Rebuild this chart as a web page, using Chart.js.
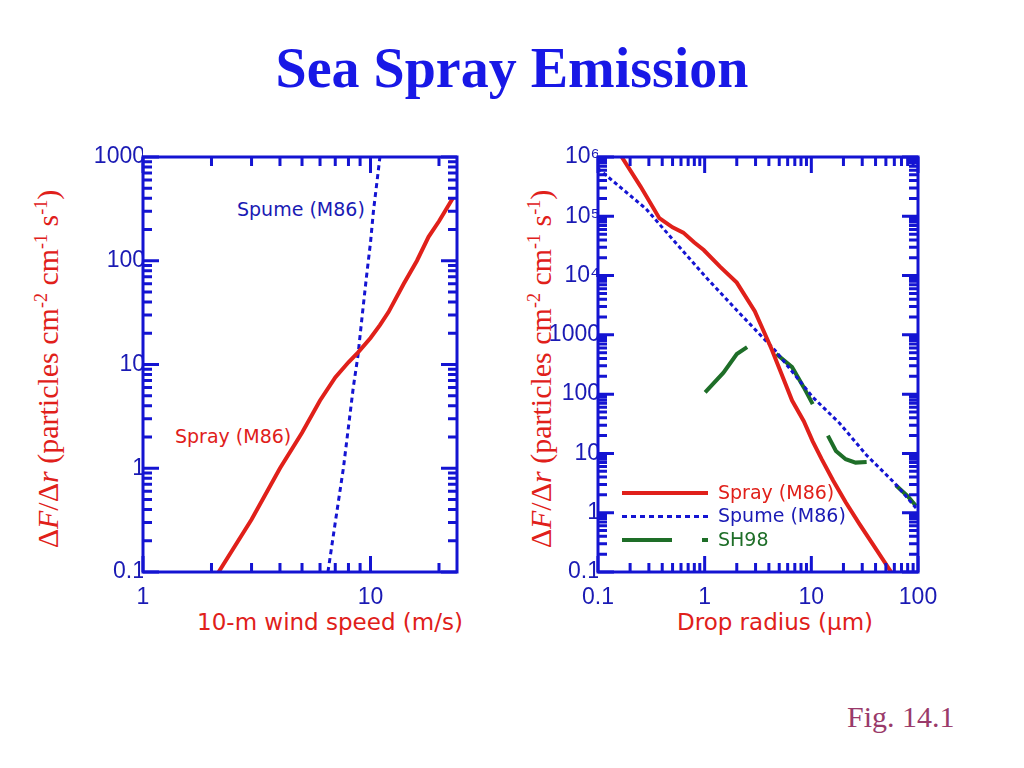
<!DOCTYPE html>
<html><head><meta charset="utf-8">
<script src="https://cdn.jsdelivr.net/npm/chart.js@4"></script>
<style>
body{margin:0;width:1024px;height:768px;background:#fff;position:relative;overflow:hidden;font-family:"DejaVu Sans",sans-serif}
.t{position:absolute;white-space:nowrap}
canvas{position:absolute}
.yt{position:absolute;font-family:"Liberation Serif",serif;font-size:30px;color:#e0201a;transform:rotate(-90deg);transform-origin:center;white-space:nowrap;width:440px;text-align:center}
sup{font-size:60%}
</style></head><body>
<div class="t" style="left:0;width:1024px;top:36px;text-align:center;font-family:'Liberation Serif',serif;font-weight:bold;font-size:56px;color:#1818e6">Sea Spray Emission</div>
<div class="t" style="left:847px;top:700px;font-family:'Liberation Serif',serif;font-size:30px;color:#9a3a6a">Fig. 14.1</div>
<div class="yt" style="left:-172px;top:352px">Δ<i>F</i>/Δ<i>r</i> (particles cm<sup>-2</sup> cm<sup>-1</sup> s<sup>-1</sup>)</div>
<div class="yt" style="left:321px;top:352px">Δ<i>F</i>/Δ<i>r</i> (particles cm<sup>-2</sup> cm<sup>-1</sup> s<sup>-1</sup>)</div>
<div class="t" style="left:130px;width:400px;top:609px;text-align:center;font-size:23px;color:#e0201a">10-m wind speed (m/s)</div>
<div class="t" style="left:575px;width:400px;top:609px;text-align:center;font-size:23px;color:#e0201a">Drop radius (μm)</div>
<div class="t" style="left:237px;top:198px;font-size:19px;color:#1a1ab4">Spume (M86)</div>
<div class="t" style="left:175px;top:425px;font-size:19px;color:#e0201a">Spray (M86)</div>
<canvas id="c1" style="left:40px;top:100px;width:460px;height:560px"></canvas>
<canvas id="c2" style="left:520px;top:100px;width:460px;height:560px"></canvas>
<script>
// Left panel: flux vs wind speed
const windSprayX = [2.15, 3, 4, 5, 6, 7, 8, 8.8, 10, 11, 12, 14, 16, 18, 20, 23];
const windSprayY = [0.1, 0.32, 1.0, 2.2, 4.5, 7.5, 10.5, 13, 18, 24, 32, 60, 100, 170, 240, 400];
const windSpumeX = [6.5, 7, 7.6, 8.0, 8.4, 8.8, 9.2, 9.6, 10.0, 10.3, 10.7, 11.0];
const windSpumeY = [0.1, 0.3, 1.0, 2.5, 6, 12, 30, 70, 150, 300, 600, 1000];
// Right panel: flux vs drop radius
const rSprayX = [0.167, 0.25, 0.376, 0.5, 0.63, 0.8, 0.98, 1.4, 2.0, 2.95, 4.2, 5.2, 6.6, 8.5, 10.3, 12.5, 16, 21, 28, 40, 56];
const rSprayY = [1e6, 3.2e5, 9.3e4, 6.5e4, 5.3e4, 3.6e4, 2.7e4, 1.4e4, 7.6e3, 2.5e3, 600, 230, 78, 35, 16, 8, 3.5, 1.5, 0.66, 0.25, 0.1];
const rSpumeX = [0.1, 0.28, 1.05, 2.0, 4.6, 10.3, 18.5, 33, 60, 100];
const rSpumeY = [6.4e5, 1.35e5, 9e3, 2.6e3, 540, 89, 32, 9.3, 3.2, 1.1];
const rSH98X = [1.01, 1.5, 2.0, 2.5, null, 4.7, 6.6, 8.5, 10.3, null, 14.3, 17, 21, 26, 33, null, 62, 80, 96];
const rSH98Y = [107, 230, 475, 620, null, 475, 285, 130, 68, null, 20, 11, 8, 7, 7.2, null, 2.9, 1.9, 1.3];
const leftYTicks = {0.1:'0.1',1:'1',10:'10',100:'100',1000:'1000'};
const leftXTicks = {1:'1',10:'10'};
const rightYTicks = {0.1:'0.1',1:'1',10:'10',100:'100',1000:'1000',10000:'10⁴',100000:'10⁵',1000000:'10⁶'};
const rightXTicks = {0.1:'0.1',1:'1',10:'10',100:'100'};

const BLUE='#1414d2', RED='#e0201a', GREEN='#1e6e28', TXT='#1a1ab4';
function pts(xs,ys){return xs.map((x,i)=>x===null?{x:NaN,y:null}:{x:x,y:ys[i]});}
const frame={id:'frame',afterDatasetsDraw(ch){
  const {ctx,chartArea:a,scales:{x,y}}=ch;ctx.save();ctx.strokeStyle=BLUE;ctx.lineWidth=3;
  ctx.strokeRect(a.left,a.top,a.right-a.left,a.bottom-a.top);
  function vals(min,max){const r=[];for(let e=-2;e<=7;e++)for(let k=1;k<10;k++){const v=k*Math.pow(10,e);if(v>=min*0.999&&v<=max*1.001)r.push([v,k===1]);}return r;}
  ctx.beginPath();
  for(const [v,maj] of vals(x.min,x.max)){const px=x.getPixelForValue(v),L=maj?16:9;ctx.moveTo(px,a.bottom);ctx.lineTo(px,a.bottom-L);ctx.moveTo(px,a.top);ctx.lineTo(px,a.top+L);}
  for(const [v,maj] of vals(y.min,y.max)){const py=y.getPixelForValue(v),L=maj?16:9;ctx.moveTo(a.left,py);ctx.lineTo(a.left+L,py);ctx.moveTo(a.right,py);ctx.lineTo(a.right-L,py);}
  ctx.stroke();ctx.restore();
}};
function opts(xmin,xmax,ymin,ymax,xm,ym,yw,pr){return{responsive:false,animation:false,
  layout:{padding:{top:57,right:pr,left:0,bottom:0}},
  plugins:{legend:{display:false},tooltip:{enabled:false}},
  scales:{
    x:{type:'logarithmic',min:xmin,max:xmax,grid:{display:false},border:{display:false},
       afterFit(s){s.height=88;},
       ticks:{autoSkip:false,maxRotation:0,color:TXT,font:{size:23},padding:4,callback:v=>xm[v]||''}},
    y:{type:'logarithmic',min:ymin,max:ymax,grid:{display:false},border:{display:false},
       afterFit(s){s.width=yw;},
       ticks:{autoSkip:false,color:TXT,font:{size:23},padding:-10,callback:v=>ym[v]||''}}
  }}}
function mk(id,ds,o,extra){const c=document.getElementById(id);c.width=460;c.height=560;
  return new Chart(c,{type:'line',data:{datasets:ds},options:o,plugins:[frame].concat(extra||[])});}
const lineDs=(d,col,w,dash)=>({data:d,borderColor:col,borderWidth:w,borderDash:dash||[],pointRadius:0,fill:false,spanGaps:false,tension:0});
mk('c1',[lineDs(pts(windSprayX,windSprayY),RED,4),lineDs(pts(windSpumeX,windSpumeY),BLUE,3,[5,4])],
  opts(1,24,0.1,1000,leftXTicks,leftYTicks,103,43));
const legend={id:'lg',afterDatasetsDraw(ch){const {ctx,chartArea:a}=ch;ctx.save();
  const x0=a.left+24,rows=[[RED,[],'Spray (M86)'],[BLUE,[5,4],'Spume (M86)'],[GREEN,[50,30,6,100],'SH98']];
  rows.forEach((r,i)=>{const yy=a.bottom-79+i*23.5;ctx.strokeStyle=r[0];ctx.lineWidth=i==1?3:4;ctx.setLineDash(r[1]);
    ctx.beginPath();ctx.moveTo(x0,yy);ctx.lineTo(x0+86,yy);ctx.stroke();ctx.setLineDash([]);
    ctx.fillStyle=i==0?RED:(i==1?TXT:GREEN);ctx.font='19px "DejaVu Sans"';ctx.textBaseline='middle';ctx.fillText(r[2],x0+96,yy+1);});
  ctx.restore();}};
mk('c2',[lineDs(pts(rSprayX,rSprayY),RED,4),lineDs(pts(rSpumeX,rSpumeY),BLUE,3,[4,3]),lineDs(pts(rSH98X,rSH98Y),GREEN,4)],
  opts(0.1,100,0.1,1e6,rightXTicks,rightYTicks,78,62),[legend]);
</script></body></html>
